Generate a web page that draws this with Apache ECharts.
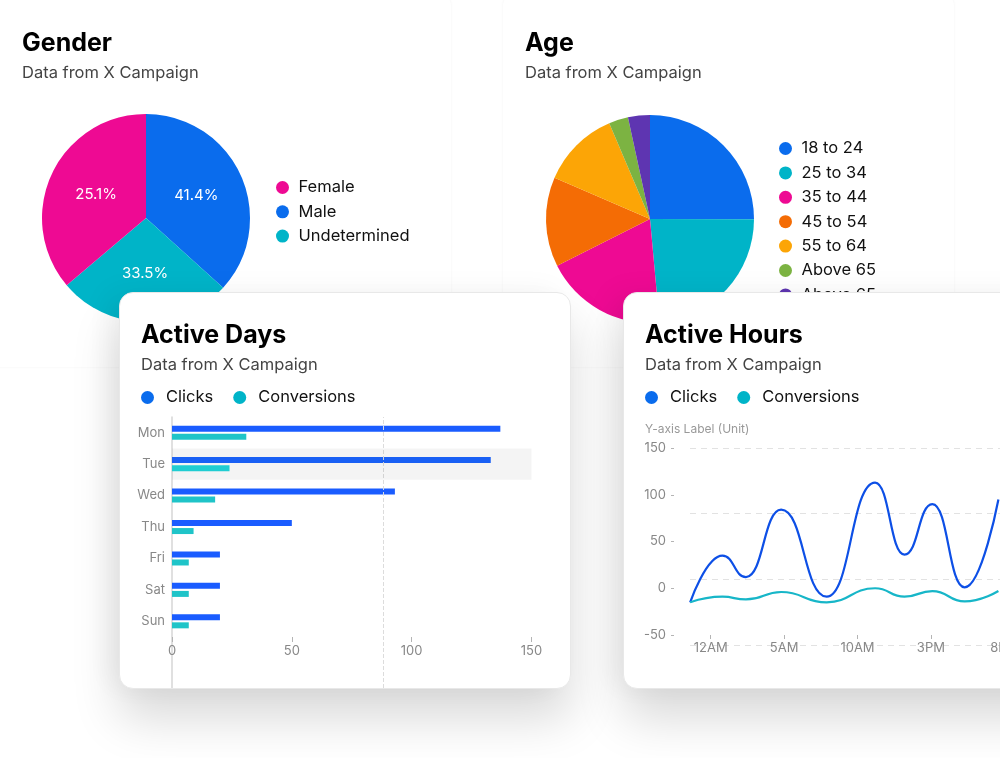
<!DOCTYPE html>
<html lang="en">

<head>
    <meta charset="utf-8">
    <title>campaign-dashboard</title>
    <script src="https://cdn.jsdelivr.net/npm/echarts@6.0.0/dist/echarts.min.js"></script>
    <style>
        html, body {
            margin: 0;
            width: 1000px;
            height: 758px;
            overflow: hidden;
            background: #fff;
            font-family: Inter, sans-serif;
        }
        .card {
            position: absolute;
            background: #fff;
            border-radius: 14px;
        }
        .back {
            box-shadow: 0 0 3px rgba(0, 0, 0, 0.05);
        }
        .front {
            border: 1px solid #e8e8e8;
            box-shadow: 0 30px 48px rgba(0, 0, 0, 0.15), -12px 0 30px rgba(0, 0, 0, 0.05);
        }
        .chart {
            position: absolute;
        }
    </style>
</head>

<body>
<div class="card back" style="left:-16px;top:-8px;width:467px;height:375px"></div>
<div id="gender" class="chart" style="left:0;top:0;width:452px;height:367px"></div>
<div class="card back" style="left:503px;top:-8px;width:451px;height:375px"></div>
<div id="age" class="chart" style="left:503px;top:0;width:452px;height:367px"></div>
<div class="card front" style="left:119px;top:292px;width:450px;height:395px"></div>
<div id="days" class="chart" style="left:119px;top:292px;width:451px;height:396px"></div>
<div class="card front" style="left:623px;top:292px;width:450px;height:395px"></div>
<div id="hours" class="chart" style="left:623px;top:292px;width:451px;height:396px"></div>
<script>
    // gender pie (slice sizes as drawn, labels as printed)
    const genderNames = ["Male", "Undetermined", "Female"];
    const genderValues = [36.7, 27.1, 36.2];
    const genderLabels = ["41.4%", "33.5%", "25.1%"];
    const genderLegend = ["Female", "Male", "Undetermined"];
    const genderColors = ["#0a6ced", "#00b4c8", "#ee0a93"];

    // age pie
    const ageNames = ["18 to 24", "25 to 34", "35 to 44", "45 to 54", "55 to 64", "Above 65", "Above 65 "];
    const ageValues = [25, 23.5, 19, 13.9, 12.1, 3, 3.4];
    const ageColors = ["#0a6ced", "#00b4c8", "#ee0a93", "#f46c05", "#fca506", "#7cb342", "#5e35b1"];

    // active days
    const days = ["Mon", "Tue", "Wed", "Thu", "Fri", "Sat", "Sun"];
    const dayClicks = [137, 133, 93, 50, 20, 20, 20];
    const dayConversions = [31, 24, 18, 9, 7, 7, 7];
    const dayRefValue = 88;

    // active hours (x in hours from 12AM)
    const hourX = [-1.4, 0.8, 2.4, 4.8, 7.9, 11.2, 13.2, 15.1, 17.3, 19.6];
    const hourClicks = [-15, 35, 12, 84, -9, 113, 36, 90, 1, 95];
    const hourConversions = [-15, -9, -12, -4, -15, 0, -9, -3, -14, -3];
    const hourTickValues = [0, 5, 10, 15, 20];
    const hourTickLabels = ["12AM", "5AM", "10AM", "3PM", "8PM"];

    const FONT = "Inter";
    const subtitle = "Data from X Campaign";
    const TICK_COLOR = "#b4b4b4";

    function makeTitle(text) {
        return {
            text: text,
            subtext: subtitle,
            left: 22,
            top: 31,
            padding: 0,
            itemGap: 9,
            textStyle: {fontSize: 25, fontWeight: 700, color: "#000", fontFamily: FONT},
            subtextStyle: {fontSize: 16.5, color: "#444", fontFamily: FONT}
        };
    }

    function pieLegend(top, gap) {
        return {
            orient: "vertical",
            left: 276,
            top: top,
            padding: 0,
            itemWidth: 22,
            itemHeight: 13,
            itemGap: gap,
            icon: "circle",
            textStyle: {fontSize: 16.5, color: "#111", fontFamily: FONT}
        };
    }

    function cardLegend() {
        return {
            left: 22,
            top: 97,
            padding: 0,
            itemWidth: 27,
            itemHeight: 13,
            itemGap: 20,
            icon: "circle",
            textStyle: {fontSize: 16.5, color: "#111", fontFamily: FONT},
            data: [
                {name: "Clicks", itemStyle: {color: "#0a6ced"}},
                {name: "Conversions", itemStyle: {color: "#00b4c8"}}
            ]
        };
    }

    // Gender
    const genderChart = echarts.init(document.getElementById("gender"));
    genderChart.setOption({
        animation: false,
        title: makeTitle("Gender"),
        legend: Object.assign(pieLegend(179, 7.3), {data: genderLegend}),
        series: [{
            type: "pie",
            center: [146, 218],
            radius: 104,
            startAngle: 90,
            silent: true,
            label: {
                position: "inside",
                color: "#fff",
                fontSize: 15,
                fontFamily: FONT,
                formatter: p => genderLabels[p.dataIndex]
            },
            labelLine: {show: false},
            data: genderNames.map((n, i) => ({name: n, value: genderValues[i], itemStyle: {color: genderColors[i]}}))
        }]
    });

    // Age
    const ageChart = echarts.init(document.getElementById("age"));
    ageChart.setOption({
        animation: false,
        title: makeTitle("Age"),
        legend: Object.assign(pieLegend(140, 7.4), {data: ageNames}),
        series: [{
            type: "pie",
            center: [147, 219],
            radius: 104,
            startAngle: 90,
            silent: true,
            label: {show: false},
            labelLine: {show: false},
            data: ageNames.map((n, i) => ({name: n, value: ageValues[i], itemStyle: {color: ageColors[i]}}))
        }]
    });

    // Active Days
    const axisText = {fontSize: 13, color: "#888", fontFamily: FONT};
    const daysChart = echarts.init(document.getElementById("days"));
    daysChart.setOption({
        animation: false,
        title: makeTitle("Active Days"),
        legend: cardLegend(),
        tooltip: {
            trigger: "axis",
            showContent: false,
            axisPointer: {type: "shadow", shadowStyle: {color: "rgba(0,0,0,0.045)"}}
        },
        grid: [
            {left: 53, top: 125, width: 359.5, height: 220},
            {left: 53, top: 125, width: 359.5, height: 271}
        ],
        xAxis: [{
            type: "value",
            gridIndex: 0,
            min: 0,
            max: 150,
            interval: 50,
            axisLine: {show: true, onZero: false, lineStyle: {color: "transparent"}},
            axisTick: {show: true, length: 5, lineStyle: {color: TICK_COLOR}},
            axisLabel: Object.assign({margin: 8}, axisText),
            splitLine: {show: false}
        }, {
            type: "value",
            gridIndex: 1,
            min: 0,
            max: 150,
            show: false,
            axisPointer: {show: false}
        }],
        yAxis: [{
            type: "category",
            gridIndex: 0,
            inverse: true,
            data: days,
            axisLine: {show: false},
            axisTick: {show: false},
            axisLabel: Object.assign({margin: 7}, axisText)
        }, {
            type: "value",
            gridIndex: 1,
            axisLine: {show: true, onZero: false, lineStyle: {color: "#d6d6d6", width: 1.5}},
            axisTick: {show: false},
            axisLabel: {show: false},
            splitLine: {show: false},
            axisPointer: {show: false}
        }],
        series: [{
            name: "Clicks",
            type: "bar",
            xAxisIndex: 0,
            yAxisIndex: 0,
            data: dayClicks,
            barWidth: 6,
            barGap: "35%",
            itemStyle: {color: "#1a5cff"}
        }, {
            name: "Conversions",
            type: "bar",
            xAxisIndex: 0,
            yAxisIndex: 0,
            data: dayConversions,
            barWidth: 6,
            itemStyle: {color: "#1fc4c8"}
        }, {
            type: "line",
            xAxisIndex: 1,
            yAxisIndex: 1,
            data: [],
            silent: true,
            tooltip: {show: false},
            markLine: {
                silent: true,
                symbol: "none",
                label: {show: false},
                lineStyle: {type: "dashed", color: "#dcdcdc", width: 1},
                data: [{xAxis: dayRefValue}]
            }
        }]
    });
    daysChart.dispatchAction({type: "showTip", seriesIndex: 0, dataIndex: 1});

    // Active Hours
    const hoursChart = echarts.init(document.getElementById("hours"));
    hoursChart.setOption({
        animation: false,
        title: [makeTitle("Active Hours"), {
            text: "Y-axis Label (Unit)",
            left: 22,
            top: 131,
            padding: 0,
            textStyle: {fontSize: 12, fontWeight: "normal", color: "#999", fontFamily: FONT}
        }],
        legend: cardLegend(),
        grid: [
            {left: 51, top: 156, width: 389, height: 187},
            {left: 67, top: 156, width: 373, height: 197}
        ],
        xAxis: [{
            type: "value",
            gridIndex: 0,
            min: -2.5,
            max: 24,
            axisLine: {show: true, onZero: false, lineStyle: {color: "transparent"}},
            axisTick: {show: true, length: 4, customValues: hourTickValues, lineStyle: {color: TICK_COLOR}},
            axisLabel: Object.assign({
                margin: 7,
                customValues: hourTickValues,
                formatter: v => hourTickLabels[hourTickValues.indexOf(v)]
            }, axisText),
            splitLine: {show: false}
        }, {
            type: "value",
            gridIndex: 1,
            min: 0,
            max: 1,
            show: false
        }],
        yAxis: [{
            type: "value",
            gridIndex: 0,
            min: -50,
            max: 150,
            interval: 50,
            axisLine: {show: true, onZero: false, lineStyle: {opacity: 0}},
            axisTick: {show: true, length: 3, lineStyle: {color: TICK_COLOR, opacity: 1}},
            axisLabel: Object.assign({margin: 8}, axisText),
            splitLine: {show: false}
        }, {
            type: "value",
            gridIndex: 1,
            min: 0,
            max: 3,
            interval: 1,
            axisLine: {show: false, onZero: false},
            axisTick: {show: false},
            axisLabel: {show: false},
            splitLine: {show: true, lineStyle: {type: [6, 5], color: "#e2e2e2", width: 1}}
        }],
        series: [{
            name: "Clicks",
            type: "line",
            xAxisIndex: 0,
            yAxisIndex: 0,
            data: hourX.map((x, i) => [x, hourClicks[i]]),
            smooth: true,
            smoothMonotone: "x",
            symbol: "none",
            lineStyle: {color: "#0d4fe6", width: 2.2},
            itemStyle: {color: "#0d4fe6"}
        }, {
            name: "Conversions",
            type: "line",
            xAxisIndex: 0,
            yAxisIndex: 0,
            data: hourX.map((x, i) => [x, hourConversions[i]]),
            smooth: true,
            smoothMonotone: "x",
            symbol: "none",
            lineStyle: {color: "#17b6c8", width: 2.2},
            itemStyle: {color: "#17b6c8"}
        }]
    });
</script>
</body>

</html>
